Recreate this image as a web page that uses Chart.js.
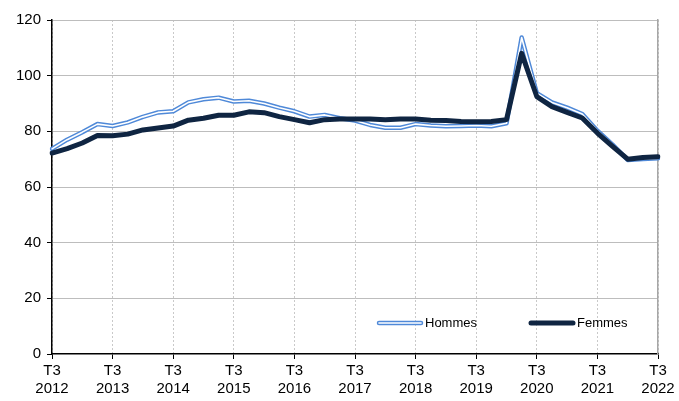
<!DOCTYPE html>
<html lang="fr">
<head>
<meta charset="utf-8">
<title>Hommes / Femmes</title>
<script src="https://cdn.jsdelivr.net/npm/chart.js@4/dist/chart.umd.min.js"></script>
<style>
    html, body { margin: 0; padding: 0; background: #fff; }
    #cadre { width: 679px; height: 401px; }
</style>
</head>
<body>
<div id="cadre"><canvas id="graphique" width="679" height="401"></canvas></div>
<script>
// Trimestres, de T3 2012 a T3 2022
const periodes = [
    'T3 2012', 'T4 2012', 'T1 2013', 'T2 2013', 'T3 2013', 'T4 2013', 'T1 2014', 'T2 2014',
    'T3 2014', 'T4 2014', 'T1 2015', 'T2 2015', 'T3 2015', 'T4 2015', 'T1 2016', 'T2 2016',
    'T3 2016', 'T4 2016', 'T1 2017', 'T2 2017', 'T3 2017', 'T4 2017', 'T1 2018', 'T2 2018',
    'T3 2018', 'T4 2018', 'T1 2019', 'T2 2019', 'T3 2019', 'T4 2019', 'T1 2020', 'T2 2020',
    'T3 2020', 'T4 2020', 'T1 2021', 'T2 2021', 'T3 2021', 'T4 2021', 'T1 2022', 'T2 2022',
    'T3 2022'
];

const hommes = [
    73.7, 77.0, 79.7, 82.6, 81.9, 83.2, 85.2, 86.8,
    87.2, 90.4, 91.5, 92.1, 90.7, 91.0, 90.0, 88.5,
    87.2, 85.3, 85.9, 84.7, 83.9, 82.3, 81.3, 81.3,
    82.6, 82.1, 81.8, 81.9, 82.1, 81.8, 82.9, 113.7,
    93.7, 90.4, 88.5, 86.2, 80.2, 75.2, 69.7, 70.1,
    70.3
];

const femmes = [
    72.2, 73.8, 75.8, 78.5, 78.4, 79.0, 80.5, 81.2,
    81.9, 84.0, 84.7, 85.8, 85.8, 87.0, 86.7, 85.3,
    84.2, 83.1, 84.2, 84.4, 84.4, 84.4, 84.2, 84.4,
    84.4, 84.0, 83.9, 83.5, 83.4, 83.5, 84.2, 108.0,
    92.5, 88.9, 86.8, 84.8, 79.4, 74.6, 70.0, 70.6,
    70.9
];

const graduationsY = [0, 20, 40, 60, 80, 100, 120];

const BLEU = '#4f89d8';
const MARINE = '#0f2542';
const POLICE = "'Liberation Sans', Arial, sans-serif";

// Legende dessinee dans la zone du graphique, en bas a droite
const legendeInterne = {
    id: 'legendeInterne',
    afterDraw(chart) {
        const ctx = chart.ctx;
        const zone = chart.chartArea;
        const y = zone.bottom - 31;
        const items = [
            { label: chart.data.datasets[2].label, x: zone.left + 327, type: 'double' },
            { label: chart.data.datasets[0].label, x: zone.left + 479, type: 'plein' }
        ];
        ctx.save();
        ctx.font = '13px ' + POLICE;
        ctx.textBaseline = 'middle';
        ctx.fillStyle = '#000';
        items.forEach(item => {
            ctx.lineCap = 'round';
            if (item.type === 'double') {
                ctx.strokeStyle = BLEU;
                ctx.lineWidth = 4.5;
                ctx.beginPath();
                ctx.moveTo(item.x, y);
                ctx.lineTo(item.x + 42, y);
                ctx.stroke();
                ctx.strokeStyle = '#fff';
                ctx.lineWidth = 1.6;
                ctx.beginPath();
                ctx.moveTo(item.x, y);
                ctx.lineTo(item.x + 42, y);
                ctx.stroke();
            } else {
                ctx.strokeStyle = MARINE;
                ctx.lineWidth = 5;
                ctx.beginPath();
                ctx.moveTo(item.x, y);
                ctx.lineTo(item.x + 42, y);
                ctx.stroke();
            }
            ctx.fillStyle = '#000';
            ctx.fillText(item.label, item.x + 46, y);
        });
        ctx.restore();
    }
};

const ctx = document.getElementById('graphique').getContext('2d');

new Chart(ctx, {
    type: 'line',
    data: {
        labels: periodes,
        datasets: [
            {
                label: 'Femmes',
                data: femmes,
                borderColor: MARINE,
                borderWidth: 5,
                order: 0
            },
            {
                label: 'Hommes (centre)',
                data: hommes,
                borderColor: '#ffffff',
                borderWidth: 1.6,
                order: 1
            },
            {
                label: 'Hommes',
                data: hommes,
                borderColor: BLEU,
                borderWidth: 4.5,
                order: 2
            }
        ]
    },
    options: {
        responsive: false,
        animation: false,
        devicePixelRatio: 1,
        layout: {
            padding: { top: 20, right: 21, left: 0, bottom: 0 }
        },
        elements: {
            point: { radius: 0 },
            line: {
                tension: 0,
                borderJoinStyle: 'round',
                borderCapStyle: 'round',
                fill: false
            }
        },
        plugins: {
            legend: { display: false },
            tooltip: { enabled: false }
        },
        scales: {
            x: {
                type: 'category',
                offset: false,
                afterFit: scale => { scale.height = 47; },
                grid: {
                    color: '#c9c9c9',
                    lineWidth: 1,
                    tickColor: '#000',
                    tickLength: 5,
                    tickWidth: 1
                },
                border: {
                    color: '#000',
                    width: 1.5,
                    dash: [2, 2]
                },
                ticks: {
                    autoSkip: false,
                    maxRotation: 0,
                    minRotation: 0,
                    padding: 2,
                    color: '#000',
                    font: { family: POLICE, size: 15, lineHeight: 1.25 },
                    callback: function(value, index) {
                        const lib = periodes[index];
                        if (!lib.startsWith('T3')) return null;
                        return lib.split(' ');
                    }
                }
            },
            y: {
                min: 0,
                max: 120,
                afterFit: scale => { scale.width = 52; },
                afterBuildTicks: scale => {
                    scale.ticks = graduationsY.map(v => ({ value: v }));
                },
                grid: {
                    color: ctx => ctx.tick && ctx.tick.value === 0 ? 'rgba(0,0,0,0)' : '#bdbdbd',
                    lineWidth: 1,
                    tickColor: '#000',
                    tickLength: 5
                },
                border: { color: '#000', width: 1.5 },
                ticks: {
                    padding: 6,
                    color: '#000',
                    font: { family: POLICE, size: 15 }
                }
            },
            yDroite: {
                position: 'right',
                min: 0,
                max: 120,
                afterFit: scale => { scale.width = 0; },
                grid: { drawOnChartArea: false, drawTicks: false },
                border: { color: '#a6a6a6', width: 1.5 },
                ticks: { display: false }
            }
        }
    },
    plugins: [legendeInterne]
});
</script>
</body>
</html>
